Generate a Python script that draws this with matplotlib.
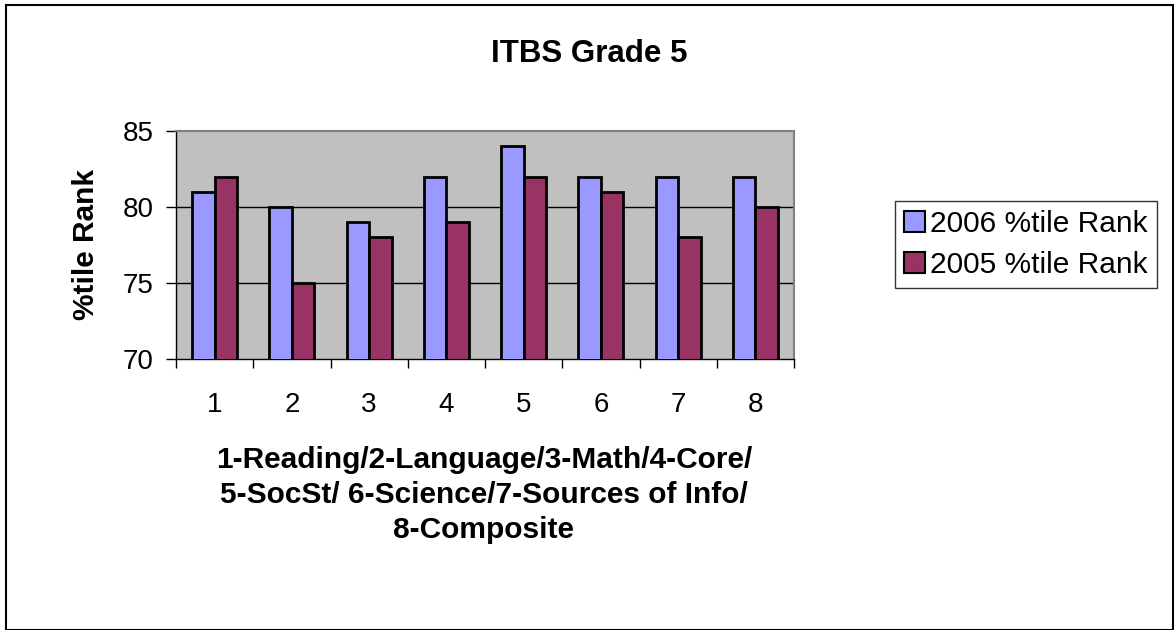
import matplotlib
matplotlib.use("Agg")
import matplotlib.pyplot as plt
import numpy as np
from matplotlib.patches import Rectangle, Patch

categories = ["1", "2", "3", "4", "5", "6", "7", "8"]
rank_2006 = [81, 80, 79, 82, 84, 82, 82, 82]
rank_2005 = [82, 75, 78, 79, 82, 81, 78, 80]
series_names = ["2006 %tile Rank", "2005 %tile Rank"]
yticks = [70, 75, 80, 85]

plt.rcParams['font.family'] = ['Liberation Sans', 'DejaVu Sans']

fig = plt.figure(figsize=(11.74, 6.30), dpi=100)
ax = fig.add_axes([176/1174, 1-359/630, (794-176)/1174, (359-131)/630])
ax.set_facecolor('#c0c0c0')

x = np.arange(len(categories)) + 1
w = 0.29
c1 = '#9999ff'
c2 = '#993366'
ax.bar(x - w/2, rank_2006, width=w, color=c1, edgecolor='black', linewidth=2, zorder=3)
ax.bar(x + w/2, rank_2005, width=w, color=c2, edgecolor='black', linewidth=2, zorder=3)

ax.set_xlim(0.5, len(categories) + 0.5)
ax.set_ylim(70, 85)
ax.set_yticks(yticks)
ax.set_yticklabels([str(t) for t in yticks], fontsize=20)
ax.set_xticks(x)
ax.set_xticklabels(categories, fontsize=20)
ax.set_xticks(np.arange(len(categories) + 1) + 0.5, minor=True)
ax.tick_params(axis='x', which='major', length=0, pad=24)
ax.tick_params(axis='x', which='minor', length=6.5, width=1, direction='out', color='black')
ax.tick_params(axis='y', length=7, width=1, direction='out', pad=9)

for t in [75, 80]:
    ax.axhline(t, color='black', linewidth=1, zorder=1)

ax.spines['left'].set_color('black')
ax.spines['bottom'].set_color('black')
ax.spines['left'].set_linewidth(1)
ax.spines['bottom'].set_linewidth(1)
ax.spines['top'].set_color('#808080')
ax.spines['right'].set_color('#808080')
ax.spines['top'].set_linewidth(1.5)
ax.spines['right'].set_linewidth(1.5)

fig.text(589/1174, 1-54/630, "ITBS Grade 5", ha='center', va='center', fontsize=22.5, fontweight='bold')
fig.text(86/1174, 1-244/630, "%tile Rank", ha='center', va='center', rotation=90, fontsize=21.5, fontweight='bold')
fig.text(484/1174, 1-495/630, "1-Reading/2-Language/3-Math/4-Core/\n5-SocSt/ 6-Science/7-Sources of Info/\n8-Composite",
         ha='center', va='center', fontsize=21.5, fontweight='bold', linespacing=1.33)

handles = [Patch(facecolor=c1, edgecolor='black', linewidth=1.5),
           Patch(facecolor=c2, edgecolor='black', linewidth=1.5)]
leg = fig.legend(handles, series_names, loc='lower left', bbox_to_anchor=(895/1174, 1-288/630),
                 fontsize=21.5, frameon=True, fancybox=False, edgecolor='black',
                 handlelength=0.7, handleheight=0.7, handletextpad=0.18, borderpad=0.3,
                 labelspacing=0.45, borderaxespad=0)
leg.get_frame().set_linewidth(1)

fig.patches.append(Rectangle((6/1174, 0), (1173-6)/1174, 1-5/630, transform=fig.transFigure,
                             fill=False, edgecolor='black', linewidth=1.5))

fig.savefig("out.png", dpi=100)
